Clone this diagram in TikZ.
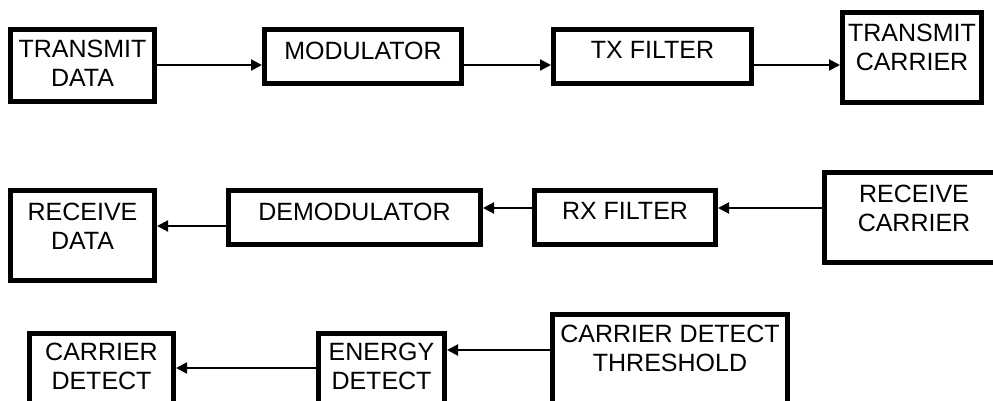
\documentclass[tikz,border=0pt]{standalone}
\usepackage{fontspec}
\setmainfont{Liberation Sans}
\usetikzlibrary{arrows.meta}
\tikzset{
  bx/.style={draw, line width=5pt, rectangle, inner sep=0pt},
  txt/.style={anchor=north, inner sep=0pt, align=center, font=\fontsize{25}{28.5}\selectfont},
  arr/.style={line width=2pt, -{Triangle[length=11pt,width=11pt]}}
}
\begin{document}
\begin{tikzpicture}[x=1pt,y=-1pt]
\useasboundingbox (0,0) rectangle (993,401);
\clip (0,0) rectangle (993,401);
% row 1
\node[bx, minimum width=144pt, minimum height=72pt] (td) at (82.5,65.5) {};
\node[bx, minimum width=197pt, minimum height=54pt] (mod) at (363,56.5) {};
\node[bx, minimum width=198pt, minimum height=54pt] (txf) at (652.5,56.5) {};
\node[bx, minimum width=139pt, minimum height=90pt] (tc) at (912,57.5) {};
\node[txt] (tdT) at ([yshift=-13pt]td.north) {TRANSMIT\\DATA};
\node[txt] (modT) at ([yshift=-14.5pt]mod.north) {MODULATOR};
\node[txt] (txfT) at ([yshift=-14.5pt]txf.north) {TX FILTER};
\node[txt] (tcT) at ([yshift=-14pt]tc.north) {TRANSMIT\\CARRIER};
\coordinate (r1) at (0,65);
\draw[arr] (td.east |- r1) -- (mod.west |- r1);
\draw[arr] (mod.east |- r1) -- (txf.west |- r1);
\draw[arr] (txf.east |- r1) -- (tc.west |- r1);
% row 2
\node[bx, minimum width=144pt, minimum height=90pt] (rd) at (82.5,235.5) {};
\node[bx, minimum width=252pt, minimum height=54pt] (dem) at (354.5,217.5) {};
\node[bx, minimum width=181pt, minimum height=54pt] (rxf) at (625,217.5) {};
\node[bx, minimum width=179pt, minimum height=90pt] (rc) at (914,217.5) {};
\node[txt] (rdT) at ([yshift=-15pt]rd.north) {RECEIVE\\DATA};
\node[txt] (demT) at ([yshift=-14.5pt]dem.north) {DEMODULATOR};
\node[txt] (rxfT) at ([yshift=-14.5pt]rxf.north) {RX FILTER};
\node[txt] (rcT) at ([yshift=-15pt]rc.north) {RECEIVE\\CARRIER};
\coordinate (r2a) at (0,208);
\coordinate (r2b) at (0,226);
\draw[arr] (rc.west |- r2a) -- (rxf.east |- r2a);
\draw[arr] (rxf.west |- r2a) -- (dem.east |- r2a);
\draw[arr] (dem.west |- r2b) -- (rd.east |- r2b);
% row 3
\node[bx, minimum width=144pt, minimum height=90pt] (cd) at (101.5,378.5) {};
\node[bx, minimum width=126pt, minimum height=90pt] (ed) at (381.5,378.5) {};
\node[bx, minimum width=235pt, minimum height=100pt] (cdt) at (670,364.5) {};
\node[txt] (cdT) at ([yshift=-12pt]cd.north) {CARRIER\\DETECT};
\node[txt] (edT) at ([yshift=-12pt]ed.north) {ENERGY\\DETECT};
\node[txt] (cdtT) at ([yshift=-13pt]cdt.north) {CARRIER DETECT\\THRESHOLD};
\coordinate (r3a) at (0,350);
\coordinate (r3b) at (0,368);
\draw[arr] (cdt.west |- r3a) -- (ed.east |- r3a);
\draw[arr] (ed.west |- r3b) -- (cd.east |- r3b);
\end{tikzpicture}
\end{document}
